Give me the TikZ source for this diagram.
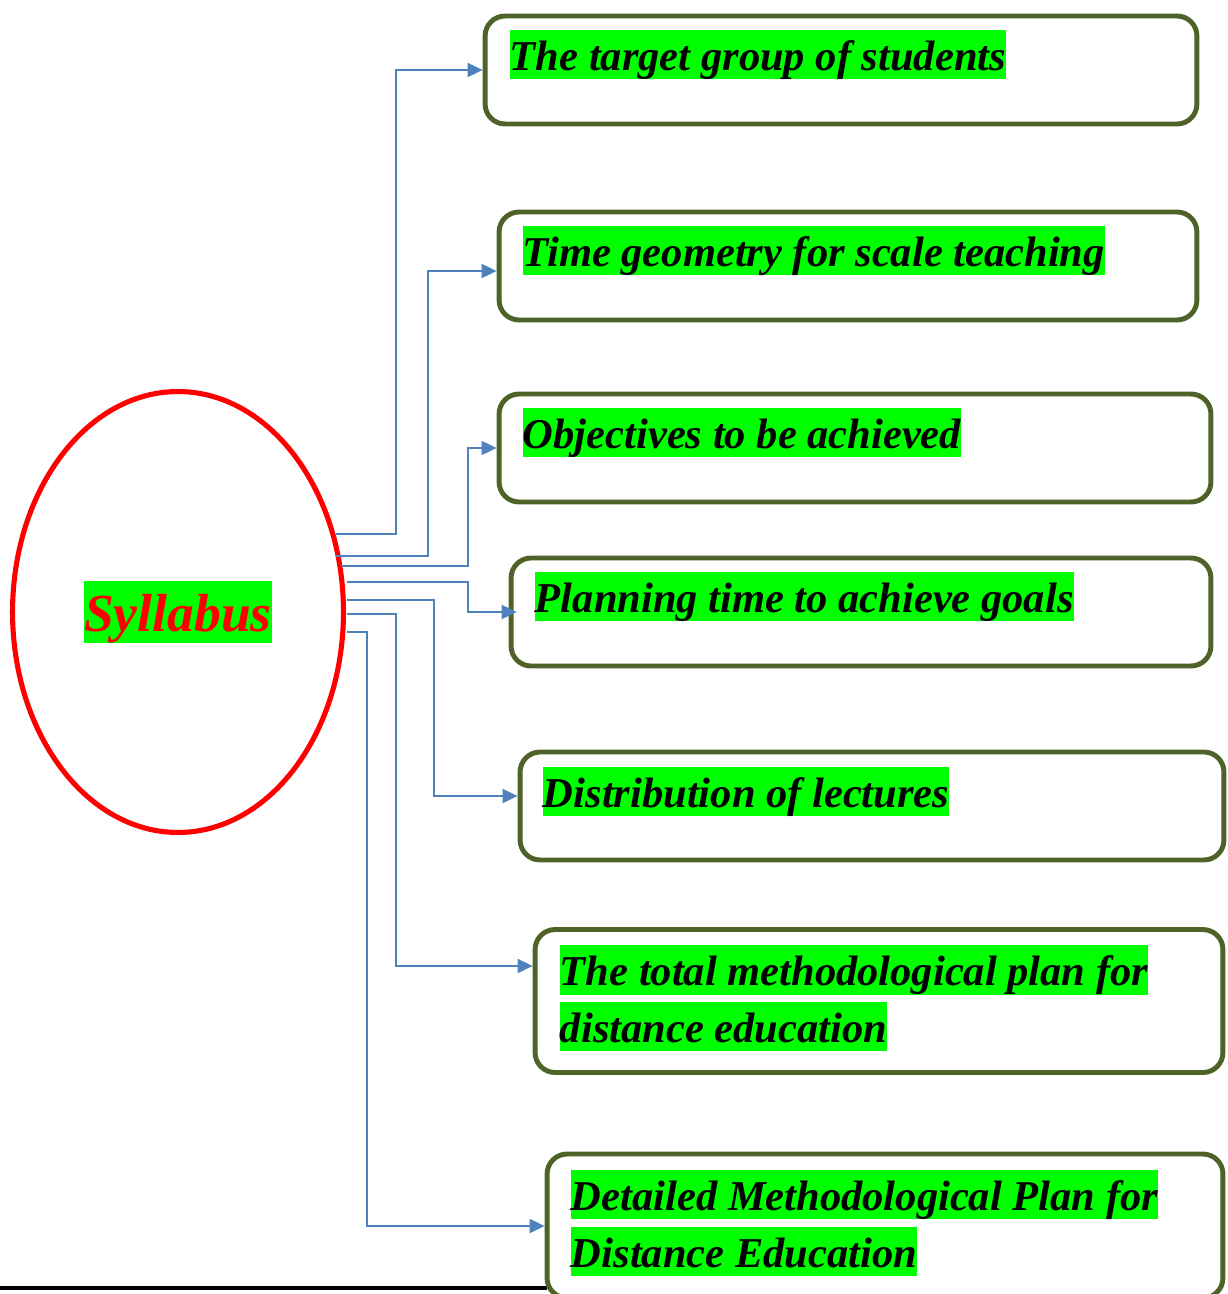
\documentclass[tikz,border=0pt]{standalone}
\usepackage{fontspec}
\setmainfont{Liberation Serif}
\usetikzlibrary{arrows.meta, positioning, shapes.geometric, calc}
\definecolor{olivebox}{HTML}{4F6228}
\definecolor{linkblue}{HTML}{4F81BD}
\definecolor{hlgreen}{HTML}{00FF00}
\newcommand{\hlgr}[1]{{\setlength{\fboxsep}{0pt}\colorbox{hlgreen}{\rule[-0.21em]{0pt}{1.16em}#1}}}
\tikzset{
  box/.style = {
    draw=olivebox, rounded corners=0.4cm, line width=2.8pt, fill=white,
    minimum height=2.16cm, inner sep=0pt
  },
  txt/.style = {
    anchor=north west, inner sep=0pt, align=left,
    font=\fontsize{24.2}{32.3}\selectfont\bfseries\itshape
  },
  oval/.style = {
    ellipse, draw=red, line width=2.9pt, inner sep=0pt,
    minimum width=6.62cm, minimum height=8.82cm,
    font=\fontsize{30.5}{34}\selectfont\bfseries\itshape, text=red
  },
  arrow/.style = {-{Triangle[length=0.3cm,width=0.28cm]}, draw=linkblue, line width=1.1pt},
}
\begin{document}
\begin{tikzpicture}[x=0.02cm, y=-0.02cm]
    \useasboundingbox (0,0) rectangle (1227,1294);

    % Page rule at the bottom
    \draw[line width=2.3pt] (0,1288) -- (547,1288);

    % Centre: the syllabus
    \node[oval] (syllabus) at (178,612) {\hlgr{Syllabus}};

    % Boxes on the right
    \node[box, minimum width=14.24cm] (b1) at (841,70) {};
    \node[box, minimum width=13.96cm] (b2) at (848,266) {};
    \node[box, minimum width=14.24cm] (b3) at (855,448) {};
    \node[box, minimum width=14.0cm] (b4) at (861,612) {};
    \node[box, minimum width=14.08cm] (b5) at (872,806) {};
    \node[box, minimum width=13.76cm, minimum height=2.86cm] (b6) at (879,1001) {};
    \node[box, minimum width=13.52cm, minimum height=2.88cm] (b7) at (885,1226) {};

    % Texts, top left in each box
    \node[txt] (t1) at ([xshift=0.54cm,yshift=-0.32cm]b1.north west) {\hlgr{The target group of students}};
    \node[txt] (t2) at ([xshift=0.52cm,yshift=-0.32cm]b2.north west) {\hlgr{Time geometry for scale teaching}};
    \node[txt] (t3) at ([xshift=0.52cm,yshift=-0.32cm]b3.north west) {\hlgr{Objectives to be achieved}};
    \node[txt] (t4) at ([xshift=0.52cm,yshift=-0.32cm]b4.north west) {\hlgr{Planning time to achieve goals}};
    \node[txt] (t5) at ([xshift=0.50cm,yshift=-0.34cm]b5.north west) {\hlgr{Distribution of lectures}};
    \node[txt] (t6) at ([xshift=0.54cm,yshift=-0.36cm]b6.north west) {\hlgr{The total methodological plan for}\\\hlgr{distance education}};
    \node[txt] (t7) at ([xshift=0.52cm,yshift=-0.36cm]b7.north west) {\hlgr{Detailed Methodological Plan for}\\\hlgr{Distance Education}};

    % Connectors from the ellipse
    \draw[arrow] ($(syllabus.east)+(-10,-78)$) -| ([xshift=-1.74cm]b1.west) -- (b1.west);
    \draw[arrow] ($(syllabus.east)+(-10,-56)$) -| ([xshift=-1.38cm,yshift=-0.1cm]b2.west) -- ([yshift=-0.1cm]b2.west);
    \draw[arrow] ($(syllabus.east)+(-5,-46)$) -| ([xshift=-0.58cm]b3.west) -- (b3.west);
    \draw[arrow] ($(syllabus.east)+(1,-30)$) -| ([xshift=-0.82cm]b4.west) -- ([xshift=0.16cm]b4.west);
    \draw[arrow] ($(syllabus.east)+(1,-12)$) -| ([xshift=-1.68cm,yshift=0.2cm]b5.west) -- ([yshift=0.2cm]b5.west);
    \draw[arrow] ($(syllabus.east)+(1,2)$) -| ([xshift=-2.74cm,yshift=0.7cm]b6.west) -- ([yshift=0.7cm]b6.west);
    \draw[arrow] ($(syllabus.east)+(1,20)$) -| ([xshift=-3.56cm]b7.west) -- (b7.west);
  \end{tikzpicture}
\end{document}
